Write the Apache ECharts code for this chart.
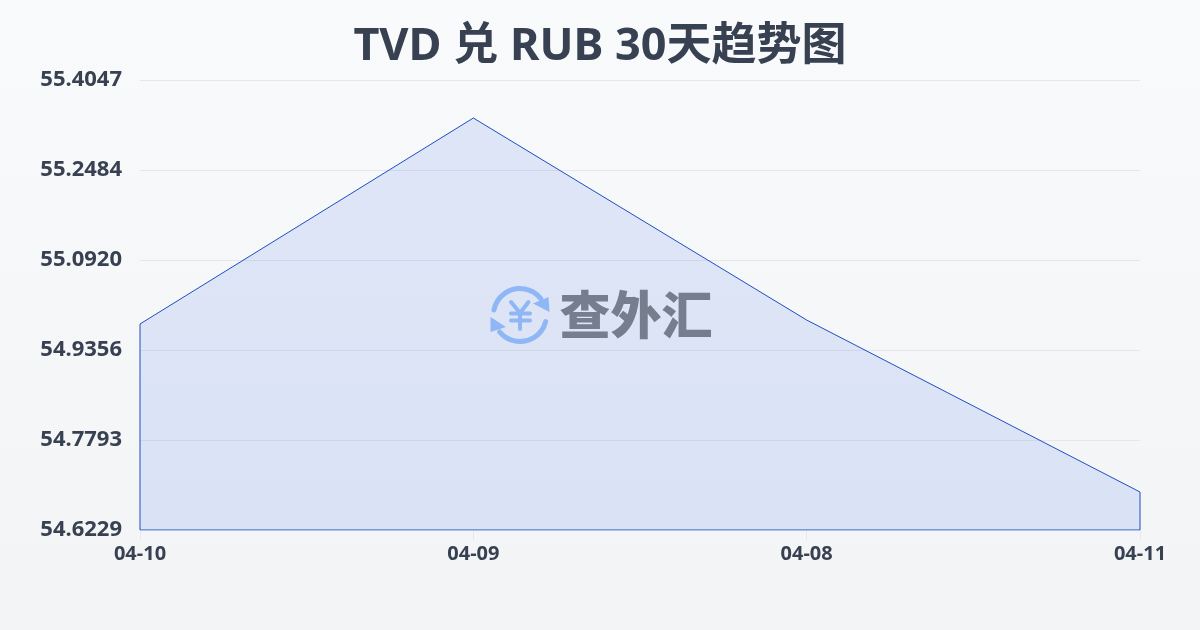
<!DOCTYPE html>
<html>
<head>
<meta charset="utf-8">
<style>html,body{margin:0;padding:0;background:#f6f7f9}#c{width:1200px;height:630px}</style>
<script src="https://cdn.jsdelivr.net/npm/echarts@6/dist/echarts.min.js"></script>
</head>
<body>
<div id="c"></div>
<script>
const categories = ['04-10', '04-09', '04-08', '04-11'];
const rates = [54.9808, 55.3387, 54.9877, 54.6889];
const yTicks = [54.6229, 54.7793, 54.9356, 55.0920, 55.2484, 55.4047];
const titleText = 'TVD 兑 RUB 30天趋势图';
const watermarkText = '查外汇';

const yMin = yTicks[0];
const yMax = yTicks[yTicks.length - 1];
const last = categories.length - 1;
const outline = [[0, yMin]]
  .concat(rates.map((v, i) => [i, v]))
  .concat([[last, yMin], [0, yMin]]);

const FONT = '"Noto Sans", "Noto Sans CJK SC", sans-serif';
const ICON = '#8fb7f6';
const chart = echarts.init(document.getElementById('c'), null, { renderer: 'canvas' });

function arrow(points) {
  return { type: 'polygon', silent: true, z: 10, shape: { points }, style: { fill: ICON } };
}
function stroke(points) {
  return { type: 'polyline', silent: true, z: 10, shape: { points },
    style: { stroke: ICON, lineWidth: 4, fill: null, lineCap: 'round', lineJoin: 'round' } };
}
chart.setOption({
  animation: false,
  backgroundColor: {
    type: 'linear', x: 0, y: 0, x2: 0, y2: 1,
    colorStops: [{ offset: 0, color: '#f9fafb' }, { offset: 1, color: '#f3f4f6' }]
  },
  title: {
    text: titleText, left: 'center', top: 20,
    textStyle: { fontFamily: FONT, fontSize: 45, fontWeight: 'bold', color: '#374151' }
  },
  grid: { left: 140, right: 60, top: 80, bottom: 100 },
  xAxis: {
    type: 'category', data: categories, boundaryGap: false,
    axisLine: { show: false },
    axisTick: { show: true, length: 10, lineStyle: { color: '#e5e7eb' } },
    axisLabel: { interval: 0, margin: 14, fontFamily: FONT, fontSize: 20, fontWeight: 'bold', color: '#374151' },
    splitLine: { show: false }
  },
  yAxis: {
    type: 'value', min: yMin, max: yMax,
    axisLine: { show: false },
    axisTick: { show: false, customValues: yTicks },
    axisLabel: {
      customValues: yTicks, margin: 18, fontFamily: FONT, fontSize: 22, fontWeight: 'bold', color: '#374151',
      formatter: v => v.toFixed(4)
    },
    splitLine: { show: true, lineStyle: { color: '#e5e7eb', width: 1 } }
  },
  series: [{
    type: 'line', data: outline, symbol: 'none', smooth: false,
    lineStyle: { color: '#1d4fc4', width: 1 },
    areaStyle: { origin: 'start', color: 'rgba(37,99,235,0.18)' }
  }],
  graphic: [
    { type: 'arc', silent: true, z: 10, shape: { cx: 520, cy: 315, r: 26.5, startAngle: Math.PI * 1.06, endAngle: Math.PI * 1.79 },
      style: { stroke: ICON, lineWidth: 5, fill: null, lineCap: 'round' } },
    { type: 'arc', silent: true, z: 10, shape: { cx: 520, cy: 315, r: 26.5, startAngle: Math.PI * 0.08, endAngle: Math.PI * 0.78 },
      style: { stroke: ICON, lineWidth: 5, fill: null, lineCap: 'round' } },
    arrow([[549.5, 312], [548.5, 297], [533, 303.5]]),
    arrow([[490.5, 317], [490.5, 332], [506, 327]]),
    stroke([[511, 302], [520, 313], [528.5, 302]]),
    stroke([[511, 313.5], [530, 313.5]]),
    stroke([[511, 320.5], [530, 320.5]]),
    stroke([[520, 313], [520, 329]]),
    { type: 'text', silent: true, z: 10, style: { text: watermarkText, x: 636, y: 315, align: 'center', verticalAlign: 'middle',
        font: '900 51px "Noto Sans CJK SC", sans-serif', fill: '#767e8d' } }
  ]
});
</script>
</body>
</html>
